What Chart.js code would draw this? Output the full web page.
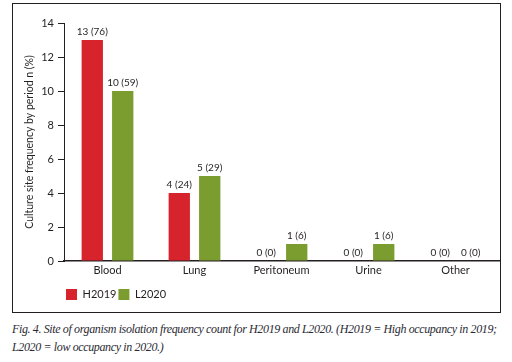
<!DOCTYPE html>
<html>
<head>
<meta charset="utf-8">
<script src="https://cdn.jsdelivr.net/npm/chart.js@4"></script>
<style>
  body { margin: 0; background: #fff; width: 512px; height: 362px; position: relative; overflow: hidden; }
  #frame { position: absolute; left: 12px; top: 3px; width: 487px; height: 308px; border: 1px solid #231f20; }
  #chart-wrap { position: absolute; left: 0; top: 0; width: 487px; height: 308px; }
  #caption { position: absolute; left: 12px; top: 320px; width: 500px; font-family: "Liberation Serif", serif; font-style: italic;
    font-size: 12px; letter-spacing: -0.37px; line-height: 18px; color: #2b2a33; white-space: nowrap; }
</style>
</head>
<body>
<div id="frame"><div id="chart-wrap"><canvas id="site-chart"></canvas></div></div>
<div id="caption">Fig. 4. Site of organism isolation frequency count for H2019 and L2020. (H2019 = High occupancy in 2019;<br>L2020 = low occupancy in 2020.)</div>
<script>
const sites = ["Blood", "Lung", "Peritoneum", "Urine", "Other"];
const h2019Count = [13, 4, 0, 0, 0];
const h2019Pct = [76, 24, 0, 0, 0];
const l2020Count = [10, 5, 1, 1, 0];
const l2020Pct = [59, 29, 6, 6, 0];
const yTicks = [0, 2, 4, 6, 8, 10, 12, 14];

const textColor = "#231f20";
const fontFamily = "Lato, sans-serif";

// count (percent) label above each bar
const barLabels = {
  id: "barLabels",
  afterDatasetsDraw(chart) {
    const ctx = chart.ctx;
    ctx.save();
    ctx.font = "10px " + fontFamily;
    ctx.fillStyle = textColor;
    ctx.textAlign = "center";
    ctx.textBaseline = "bottom";
    chart.data.datasets.forEach((ds, i) => {
      const meta = chart.getDatasetMeta(i);
      meta.data.forEach((bar, j) => {
        ctx.fillText(ds.data[j] + " (" + ds.pct[j] + ")", bar.x, bar.y - 3);
      });
    });
    ctx.restore();
  },
};

const ctx = document.getElementById("site-chart").getContext("2d");
new Chart(ctx, {
  type: "bar",
  plugins: [barLabels],
  data: {
    labels: sites,
    datasets: [
      { label: "H2019", data: h2019Count, pct: h2019Pct, backgroundColor: "#d7232b" },
      { label: "L2020", data: l2020Count, pct: l2020Pct, backgroundColor: "#7b9c2f" },
    ],
  },
  options: {
    responsive: true,
    maintainAspectRatio: false,
    animation: false,
    categoryPercentage: 0.7,
    barPercentage: 0.7,
    layout: { padding: { top: 19, right: 1, left: 0, bottom: 2 } },
    plugins: {
      tooltip: { enabled: false },
      legend: {
        position: "bottom",
        align: "start",
        fullSize: false,
        labels: {
          boxWidth: 11,
          boxHeight: 11,
          padding: 2,
          color: textColor,
          font: { size: 11, family: fontFamily },
        },
      },
    },
    scales: {
      y: {
        min: 0,
        max: 14,
        afterBuildTicks: (s) => { s.ticks = yTicks.map((v) => ({ value: v })); },
        afterFit: (s) => { s.width = 51; },
        border: { display: true, color: textColor, width: 1 },
        grid: { drawOnChartArea: false, drawTicks: true, tickLength: 6, color: textColor },
        ticks: { color: textColor, padding: 4, font: { size: 11, family: fontFamily } },
        title: {
          display: true,
          text: "Culture site frequency by period n (%)",
          color: textColor,
          padding: { top: 10, bottom: 0 },
          font: { size: 10.5, family: fontFamily },
        },
      },
      x: {
        afterFit: (s) => { s.height = 26; },
        border: { display: true, color: textColor, width: 1.5 },
        grid: { display: false, drawTicks: false },
        ticks: { color: textColor, padding: 3, font: { size: 11, family: fontFamily } },
      },
    },
  },
});
</script>
</body>
</html>
